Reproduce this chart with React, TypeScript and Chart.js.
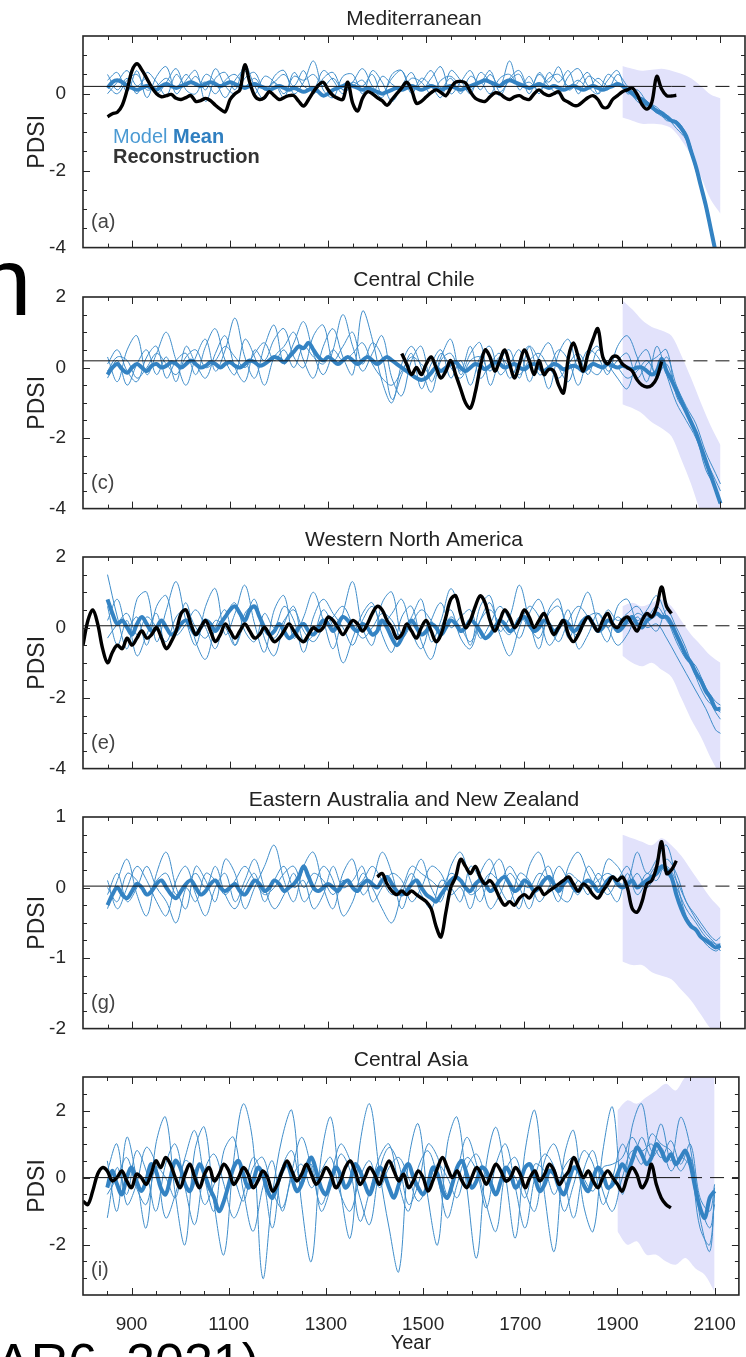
import React, { useEffect, useRef } from "react";
import { Chart, registerables } from "chart.js";

Chart.register(...registerables);

const FONT = '"Liberation Sans", Arial, Helvetica, sans-serif';

// ---------- categories ----------
const YEARS10 = [
  800, 810, 820, 830, 840, 850, 860, 870, 880, 890,
  900, 910, 920, 930, 940, 950, 960, 970, 980, 990,
  1000, 1010, 1020, 1030, 1040, 1050, 1060, 1070, 1080, 1090,
  1100, 1110, 1120, 1130, 1140, 1150, 1160, 1170, 1180, 1190,
  1200, 1210, 1220, 1230, 1240, 1250, 1260, 1270, 1280, 1290,
  1300, 1310, 1320, 1330, 1340, 1350, 1360, 1370, 1380, 1390,
  1400, 1410, 1420, 1430, 1440, 1450, 1460, 1470, 1480, 1490,
  1500, 1510, 1520, 1530, 1540, 1550, 1560, 1570, 1580, 1590,
  1600, 1610, 1620, 1630, 1640, 1650, 1660, 1670, 1680, 1690,
  1700, 1710, 1720, 1730, 1740, 1750, 1760, 1770, 1780, 1790,
  1800, 1810, 1820, 1830, 1840, 1850, 1860, 1870, 1880, 1890,
  1900, 1910, 1920, 1930, 1940, 1950, 1960, 1970, 1980, 1990,
  2000, 2010, 2020, 2030, 2040, 2050, 2060, 2070, 2080, 2090,
  2100,
];
const MODEL_START = 850;
const YEARS20 = [
  850, 870, 890, 910, 930, 950, 970, 990, 1010, 1030, 1050, 1070, 1090,
  1110, 1130, 1150, 1170, 1190, 1210, 1230, 1250, 1270, 1290, 1310, 1330,
  1350, 1370, 1390, 1410, 1430, 1450, 1470, 1490, 1510, 1530, 1550, 1570,
  1590, 1610, 1630, 1650, 1670, 1690, 1710, 1730, 1750, 1770, 1790, 1810,
  1830, 1850, 1870, 1890, 1910, 1930, 1950, 1970, 1990, 2010, 2030, 2050,
  2070, 2090, 2100,
];
const SHADE_YEARS = [1900, 1920, 1940, 1960, 1980, 2000, 2020, 2040, 2060, 2080, 2100];
const ZERO_SOLID_SPAN = [800, 2000];
const ZERO_DASH_SPAN = [2000, 2150];
const X_RANGE = [800, 2150];
const X_TICK_LABELS = [900, 1100, 1300, 1500, 1700, 1900, 2100];

// ---------- (a) Mediterranean ----------
const MED_TITLE = "Mediterranean";
const MED_Y_RANGE = [-4, 1.5];
const MED_Y_TICKS = [-4, -2, 0];
const MED_ZERO = 0.19;
const MED_MEAN = [
  0.15, 0.3, 0.35, 0.3, 0.2, 0.15, 0.1, 0.15, 0.2, 0.15,
  0.1, 0.2, 0.25, 0.2, 0.15, 0.2, 0.25, 0.3, 0.25, 0.2,
  0.25, 0.3, 0.25, 0.2, 0.25, 0.3, 0.25, 0.2, 0.15, 0.2,
  0.25, 0.2, 0.15, 0.1, 0.15, 0.2, 0.15, 0.1, 0.15, 0.1,
  0.05, 0.1, 0.15, 0.05, -0.05, 0.0, 0.1, 0.15, 0.2, 0.25,
  0.2, 0.15, 0.1, 0.15, 0.1, 0.05, 0.0, 0.05, 0.1, 0.15,
  0.1, 0.15, 0.2, 0.15, 0.1, 0.15, 0.2, 0.15, 0.1, 0.15,
  0.2, 0.15, 0.1, 0.15, 0.2, 0.25, 0.3, 0.35, 0.3, 0.25,
  0.2, 0.3, 0.35, 0.3, 0.25, 0.2, 0.15, 0.2, 0.25, 0.2,
  0.15, 0.2, 0.15, 0.1, 0.15, 0.2, 0.15, 0.1, 0.15, 0.2,
  0.15, 0.1, 0.15, 0.2, 0.25, 0.2, 0.1, 0.0, -0.1, -0.15,
  -0.25, -0.35, -0.45, -0.5, -0.6, -0.7, -0.75, -0.9, -1.1, -1.5,
  -1.9, -2.4, -2.9, -3.5, -4.1, -4.6,
];
const MED_RECON_START = 850;
const MED_RECON = [
  -0.6, -0.52, -0.48, -0.3, 0.1, 0.6, 0.78, 0.62, 0.4, 0.17,
  0.0, -0.08, -0.05, -0.02, -0.12, -0.15, -0.1, -0.05, -0.2, -0.18,
  -0.12, -0.18, -0.3, -0.4, -0.47, -0.15, 0.0, 0.1, 0.75, 0.3,
  -0.05, -0.15, -0.1, 0.05, -0.05, -0.15, -0.1, -0.05, -0.05, -0.2,
  -0.32, -0.15, 0.05, 0.22, 0.3, 0.1, -0.05, -0.12, -0.15, 0.3,
  -0.25, -0.45, -0.12, 0.05, 0.0, -0.1, -0.18, -0.3, -0.15, 0.0,
  0.15, 0.3, 0.1, -0.25, -0.2, -0.08, 0.03, 0.1, 0.03, -0.05,
  0.15, 0.3, 0.32, 0.28, 0.05, -0.12, -0.18, -0.2, -0.08, 0.02,
  0.0, -0.1, -0.15, -0.08, -0.05, -0.12, -0.15, 0.0, 0.1, 0.0,
  -0.05, 0.0, 0.05, -0.15, -0.22, -0.3, -0.3, -0.2, -0.1, -0.05,
  -0.15, -0.35, -0.35, -0.15, -0.05, 0.05, 0.1, 0.15, -0.02, -0.28,
  -0.4, -0.22, 0.45, 0.12, -0.05, -0.06, -0.04,
];
const MED_M1 = [
  0.35, 0.55, 0.05, 0.6, -0.1, 0.45, 0.7, 0.0, 0.35, 0.6, -0.2, 0.4, 0.55,
  0.1, 0.75, 0.2, -0.15, 0.45, 0.6, 0.0, 0.3, 0.85, 0.1, -0.1, 0.45, 0.5,
  0.0, 0.6, 0.3, -0.2, 0.2, 0.55, 0.1, 0.4, 0.7, 0.0, 0.3, 0.6, 0.1, 0.5,
  0.2, 0.85, 0.1, 0.45, 0.0, 0.55, 0.3, 0.6, 0.0, 0.45, 0.3, 0.1, 0.5,
  0.2, -0.05, -0.2, -0.5, -0.55, -0.8, -1.15, -1.95, -2.9, -4.1, -4.6,
];
const MED_M2 = [
  0.0, 0.3, 0.6, 0.2, 0.4, 0.0, 0.3, 0.65, 0.1, 0.0, 0.5, 0.3, -0.1,
  0.35, 0.6, 0.0, 0.45, 0.3, -0.1, 0.55, 0.2, 0.1, 0.6, 0.35, 0.0, 0.3,
  0.65, 0.2, -0.1, 0.5, 0.6, 0.0, 0.4, 0.2, -0.1, 0.6, 0.35, 0.0, 0.55,
  0.3, -0.05, 0.4, 0.6, 0.1, 0.5, 0.2, 0.0, 0.45, 0.65, 0.2, 0.0, 0.5, 0.3,
  0.1, 0.0, -0.35, -0.4, -0.7, -0.7, -1.05, -1.85, -2.85, -4.0, -4.5,
];
const MED_M3 = [
  0.5, 0.1, 0.4, 0.0, 0.55, 0.3, -0.05, 0.5, 0.2, 0.45, 0.1, 0.65, 0.2,
  0.0, 0.4, 0.55, 0.1, 0.3, 0.5, 0.2, 0.6, 0.0, 0.4, 0.55, 0.1, 0.3, 0.2,
  0.5, 0.0, 0.4, 0.6, 0.1, 0.3, 0.6, 0.15, 0.4, 0.0, 0.45, 0.3, 0.6, 0.05,
  0.35, 0.5, 0.0, 0.55, 0.3, 0.7, 0.1, 0.3, 0.55, 0.0, 0.35, 0.6,
  0.0, 0.1, -0.2, -0.35, -0.6, -0.9, -1.2, -2.0, -3.0, -4.2, -4.7,
];
const MED_M4 = [
  0.2, 0.0, 0.35, 0.5, 0.1, 0.2, 0.4, 0.15, 0.5, 0.2, 0.3, 0.0, 0.35,
  0.5, 0.2, 0.4, 0.1, 0.3, 0.0, 0.45, 0.35, 0.5, 0.2, 0.4, 0.1, 0.2, 0.35,
  0.0, 0.45, 0.25, 0.1, 0.4, 0.3, 0.0, 0.35, 0.45, 0.2, 0.1, 0.3, 0.0, 0.4,
  0.5, 0.2, 0.3, 0.1, 0.4, 0.5, 0.2, 0.35, 0.15, 0.4, 0.2, 0.25,
  0.15, -0.2, -0.3, -0.5, -0.65, -0.75, -1.05, -1.9, -2.95, -4.05, -4.6,
];
const MED_SHADE_HI = [0.72, 0.65, 0.6, 0.62, 0.65, 0.6, 0.52, 0.4, 0.2, -0.02, -0.12];
const MED_SHADE_LO = [-0.62, -0.7, -0.78, -0.78, -0.8, -0.9, -1.2, -1.6, -2.15, -2.75, -3.12];

// ---------- (c) Central Chile ----------
const CHILE_TITLE = "Central Chile";
const CHILE_Y_RANGE = [-4, 2];
const CHILE_Y_TICKS = [-4, -2, 0, 2];
const CHILE_ZERO = 0.19;
const CHILE_MEAN = [
  -0.2, 0.0, 0.1, -0.05, -0.15, 0.0, 0.1, 0.0, -0.1, 0.05,
  0.1, 0.0, 0.05, 0.15, 0.1, 0.0, 0.1, 0.2, 0.1, 0.0,
  0.05, 0.15, 0.1, 0.0, 0.1, 0.15, 0.05, 0.0, 0.1, 0.2,
  0.15, 0.05, 0.1, 0.2, 0.3, 0.25, 0.15, 0.3, 0.45, 0.6,
  0.55, 0.7, 0.5, 0.3, 0.2, 0.3, 0.2, 0.1, 0.2, 0.3,
  0.2, 0.1, 0.2, 0.3, 0.2, 0.1, 0.2, 0.3, 0.2, 0.1,
  0.0, -0.1, -0.2, -0.3, -0.35, -0.3, -0.15, 0.0, -0.1, 0.0,
  0.1, 0.15, 0.0, -0.1, 0.0, 0.1, 0.05, -0.05, 0.05, 0.15,
  0.1, 0.0, 0.05, 0.1, 0.0, -0.05, 0.05, 0.1, 0.0, -0.1,
  0.0, 0.1, 0.05, -0.05, 0.0, 0.05, 0.0, -0.1, 0.0, 0.1,
  0.05, 0.0, 0.1, 0.05, 0.0, 0.05, 0.0, -0.05, 0.0, 0.0,
  -0.1, -0.2, -0.1, 0.25, -0.1, -0.35, -0.65, -0.95, -1.25, -1.55,
  -1.85, -2.25, -2.65, -3.05, -3.45, -3.85,
];
const CHILE_RECON_START = 1450;
const CHILE_RECON = [
  0.4, 0.1, -0.2, 0.0, -0.2,
  0.1, 0.3, 0.0, -0.3, -0.1, 0.2, -0.2, -0.6, -1.0, -1.15,
  -0.7, 0.0, 0.5, 0.3, -0.1, 0.2, 0.5, 0.1, -0.3, 0.1,
  0.5, 0.2, -0.2, 0.2, -0.2, -0.05, -0.1, -0.5, -0.72, 0.3,
  0.7, 0.3, -0.1, 0.4, 0.8, 1.1, 0.3, 0.1, 0.3, 0.3,
  0.1, 0.0, -0.1, -0.35, -0.5, -0.55, -0.5, -0.3, 0.17,
];
const CHILE_M1 = [
  0.3, -0.4, 0.5, 0.9, -0.2, 0.4, 1.0, 0.2, -0.5, 0.3, 0.8, -0.1, 0.5,
  1.4, 0.3, -0.3, 0.6, 1.2, 0.1, 0.7, 1.3, 0.4, -0.2, 0.5, 1.5, 0.6, -0.1,
  0.4, 0.9, -0.3, -0.8, 0.2, 0.6, -0.4, 0.3, 0.8, -0.2, 0.4, 0.7, -0.5, 0.2,
  0.5, -0.3, 0.6, 0.2, -0.6, 0.4, 0.8, 0.0, 0.5, 0.3, -0.2, 0.6,
  0.9, 0.3, -0.4, 0.6, -0.2, -1.0, -1.5, -2.0, -2.7, -3.5, -3.9,
];
const CHILE_M2 = [
  -0.3, 0.2, -0.5, 0.1, 0.5, -0.2, 0.3, -0.4, 0.6, 0.1, -0.3, 0.4, 0.9,
  0.0, -0.4, 0.5, 0.2, 0.8, 1.1, 0.3, 0.0, 0.9, 1.2, 0.2, 0.6, 1.0, 0.1,
  0.7, 0.3, -0.9, -0.2, 0.4, -0.6, 0.1, 0.5, -0.3, 0.2, -0.5, 0.3, 0.6,
  -0.2, 0.1, 0.5, -0.4, 0.3, 0.7, 0.0, -0.4, 0.3, -0.2, 0.5, 0.1, -0.3,
  -0.6, 0.2, 0.5, -0.3, 0.3, -0.5, -1.1, -1.6, -2.4, -3.0, -3.3,
];
const CHILE_M3 = [
  0.1, 0.5, -0.1, -0.4, 0.3, 0.6, -0.3, 0.2, 0.4, -0.2, 0.6, 1.1, 0.2,
  -0.2, 0.8, 0.3, -0.5, 0.3, 0.6, 1.0, 0.2, -0.3, 0.6, 1.1, 0.3, -0.2, 1.6,
  0.8, -0.4, -1.0, 0.1, 0.6, 0.0, -0.7, 0.2, 0.4, -0.1, 0.6, -0.3, 0.1,
  0.4, -0.3, 0.2, 0.6, -0.2, 0.0, 0.5, 0.2, -0.5, 0.3, 0.6, -0.1, 0.2,
  0.4, -0.3, 0.1, 0.3, 0.5, -0.8, -1.3, -1.9, -2.9, -3.4, -3.8,
];
const CHILE_M4 = [
  -0.1, 0.3, 0.2, -0.3, 0.0, 0.4, 0.1, -0.2, 0.3, 0.5, 0.0, 0.2, 0.6,
  0.3, 0.0, 0.4, 0.7, 0.2, 0.5, 0.0, 0.6, 0.3, 0.1, 0.5, 0.2, 0.4, 0.7,
  0.1, -0.3, -0.5, -0.1, 0.3, 0.1, -0.2, 0.4, 0.0, -0.3, 0.2, 0.3, -0.1,
  0.3, 0.0, -0.2, 0.2, 0.4, 0.0, -0.3, 0.1, 0.4, 0.0, -0.2, 0.2, 0.0,
  -0.3, -0.1, 0.2, -0.2, 0.1, -0.7, -1.2, -1.8, -2.6, -3.2, -3.5,
];
const CHILE_SHADE_HI = [1.9, 1.65, 1.35, 1.15, 1.05, 0.9, 0.35, -0.3, -1.0, -1.65, -2.2];
const CHILE_SHADE_LO = [-1.04, -1.15, -1.3, -1.55, -1.72, -1.95, -2.6, -3.3, -4.1, -4.6, -5.0];

// ---------- (e) Western North America ----------
const WNA_TITLE = "Western North America";
const WNA_Y_RANGE = [-4, 2];
const WNA_Y_TICKS = [-4, -2, 0, 2];
const WNA_ZERO = 0.05;
const WNA_MEAN = [
  0.8, 0.4, 0.1, 0.2, 0.0, -0.2, 0.1, 0.3, 0.1, -0.1,
  0.0, 0.2, 0.0, -0.2, -0.1, 0.1, 0.2, 0.0, -0.2, 0.0,
  0.2, 0.1, -0.1, 0.1, 0.3, 0.5, 0.6, 0.4, 0.2, 0.5,
  0.6, 0.3, 0.0, -0.2, -0.1, 0.1, -0.1, -0.3, -0.2, 0.0,
  0.1, -0.1, -0.2, 0.0, 0.2, 0.1, -0.1, 0.1, 0.3, 0.2,
  0.0, -0.1, 0.1, 0.0, -0.2, -0.1, 0.2, 0.0, -0.3, -0.5,
  -0.3, 0.0, 0.2, 0.0, -0.2, -0.1, 0.1, 0.0, -0.2, 0.0,
  0.2, 0.1, -0.1, 0.0, 0.2, 0.1, -0.1, -0.3, -0.2, 0.0,
  0.2, 0.1, -0.1, 0.0, 0.2, 0.3, 0.1, -0.1, 0.0, 0.2,
  0.1, -0.1, 0.0, 0.2, 0.1, -0.1, 0.0, 0.2, 0.3, 0.1,
  -0.1, 0.0, 0.2, 0.1, -0.1, 0.0, 0.2, 0.3, 0.1, 0.0,
  0.2, 0.3, 0.4, 0.3, 0.3, 0.1, -0.2, -0.5, -0.8, -1.0,
  -1.3, -1.5, -1.8, -2.0, -2.3, -2.3,
];
const WNA_RECON_START = 800;
const WNA_RECON = [
  -0.5, 0.2, 0.5, 0.1, -0.6, -1.0, -0.7, -0.5, -0.6, -0.3,
  -0.5, -0.3, -0.1, -0.3, -0.2, 0.0, -0.3, -0.6, -0.4, -0.1,
  0.4, 0.5, 0.1, -0.2, 0.0, 0.2, -0.1, -0.4, -0.2, 0.1,
  -0.1, -0.3, -0.1, 0.1, -0.1, -0.3, -0.2, 0.0, -0.2, -0.4,
  -0.3, -0.1, 0.1, -0.1, -0.3, -0.4, -0.2, 0.0, -0.1, 0.0,
  0.3, 0.2, 0.0, -0.2, 0.0, 0.2, 0.1, -0.1, 0.1, 0.4,
  0.6, 0.5, 0.2, 0.0, -0.3, -0.2, 0.1, -0.1, -0.3, 0.0,
  0.2, -0.1, -0.4, -0.2, 0.3, 0.8, 0.9, 0.4, 0.0, 0.2,
  0.6, 0.9, 0.7, 0.2, -0.1, 0.2, 0.5, 0.3, 0.0, 0.2,
  0.5, 0.3, 0.0, 0.2, 0.4, 0.1, -0.2, 0.0, 0.2, -0.2,
  -0.4, -0.2, 0.1, 0.3, 0.1, -0.1, 0.2, 0.4, 0.1, 0.0,
  0.2, 0.3, 0.1, -0.1, 0.2, 0.4, 0.3, 0.6, 1.15, 0.6,
  0.4,
];
const WNA_M1 = [
  1.5, 0.3, -0.6, 0.8, 1.0, -0.4, 0.5, 1.3, 0.2, -0.5, 0.6, 1.1, -0.2,
  0.4, 1.2, 0.1, -0.7, 0.5, 0.9, -0.3, 0.3, 1.0, 0.2, -0.6, 0.4, 1.3, 0.0,
  -0.5, 0.7, 1.0, -0.2, 0.3, 0.8, -0.4, 0.2, 1.1, 0.4, -0.5, 0.6, 0.9,
  -0.1, 0.3, 1.2, 0.2, -0.6, 0.5, 0.8, -0.3, 0.4, 1.0, 0.1, -0.4, 0.6,
  0.8, 0.2, 0.5, 0.9, 0.3, -0.4, -0.9, -1.2, -1.8, -2.4, -2.6,
];
const WNA_M2 = [
  0.6, -0.5, 0.2, -0.8, -0.2, 0.4, -0.6, -0.1, 0.7, -0.4, -0.9, 0.0, 0.5,
  -0.5, 0.2, 0.8, -0.3, -0.8, 0.1, 0.6, -0.4, -0.2, 0.5, 0.0, -1.0, -0.3,
  0.4, 0.7, -0.2, -0.7, 0.3, 0.6, -0.4, -0.9, 0.0, 0.5, -0.3, -0.6, 0.2,
  0.7, -0.2, -0.8, 0.0, 0.6, 0.3, -0.5, -0.1, 0.5, -0.6, -0.2, 0.4, 0.0, -0.5,
  -0.2, 0.3, 0.0, 0.1, -0.3, -0.8, -1.3, -1.8, -2.3, -2.9, -3.0,
];
const WNA_M3 = [
  0.2, 0.8, 0.0, 0.3, -0.5, 0.6, 0.9, -0.2, 0.1, 0.5, 0.0, -0.6, 0.3,
  0.7, -0.1, -0.4, 0.4, 0.0, 0.6, 0.2, -0.7, 0.3, 0.8, 0.4, 0.0, -0.5, 0.2,
  0.6, 0.1, 0.4, 0.8, -0.1, -0.6, 0.2, 0.7, 0.0, 0.3, 0.5, -0.3, 0.1, 0.6,
  0.2, -0.3, 0.4, 0.8, 0.1, -0.4, 0.2, 0.6, 0.3, -0.1, 0.5, 0.2,
  0.4, 0.6, 0.2, -0.1, 0.5, 0.0, -0.6, -1.4, -2.0, -2.3, -2.4,
];
const WNA_M4 = [
  -0.3, 0.1, 0.4, -0.2, 0.3, 0.0, -0.4, 0.3, 0.5, 0.0, -0.3, 0.2, 0.0,
  -0.5, 0.4, 0.6, 0.0, -0.3, 0.2, 0.5, -0.1, -0.4, 0.0, 0.3, 0.6, 0.1,
  -0.3, 0.0, 0.4, 0.2, -0.3, 0.1, 0.5, 0.2, -0.2, 0.3, 0.0, -0.4, 0.2, 0.5,
  0.1, -0.2, 0.3, 0.0, -0.3, 0.4, 0.6, 0.0, -0.2, 0.3, 0.4, 0.0, 0.3,
  0.1, 0.4, 0.3, 0.6, 0.2, -0.2, -0.8, -1.1, -1.7, -2.1, -2.2,
];
const WNA_SHADE_HI = [0.6, 0.7, 0.6, 0.7, 0.8, 0.6, 0.2, -0.2, -0.5, -0.8, -1.0];
const WNA_SHADE_LO = [-0.8, -1.0, -1.1, -1.0, -1.2, -1.4, -2.0, -2.6, -3.1, -3.7, -4.2];

// ---------- (g) Eastern Australia and New Zealand ----------
const EANZ_TITLE = "Eastern Australia and New Zealand";
const EANZ_Y_RANGE = [-2, 1];
const EANZ_Y_TICKS = [-2, -1, 0, 1];
const EANZ_ZERO = 0.02;
const EANZ_MEAN = [
  -0.25, -0.1, 0.0, -0.1, -0.15, -0.05, 0.05, 0.0, -0.1, -0.05,
  0.05, 0.1, 0.0, -0.1, -0.15, -0.05, 0.05, 0.1, 0.0, -0.1,
  -0.05, 0.05, 0.1, 0.0, -0.05, 0.0, 0.05, -0.05, -0.1, 0.0,
  0.1, 0.05, -0.05, 0.0, 0.1, 0.05, -0.05, 0.0, 0.05, 0.15,
  0.3, 0.15, 0.0, -0.05, 0.0, 0.05, 0.0, -0.05, 0.05, 0.1,
  0.0, -0.05, 0.05, 0.1, 0.05, 0.0, 0.1, 0.15, 0.05, -0.05,
  -0.1, -0.05, 0.05, 0.1, 0.0, -0.1, -0.15, -0.2, -0.1, 0.0,
  0.1, 0.15, 0.1, 0.0, -0.05, 0.05, 0.1, 0.05, -0.05, 0.0,
  0.1, 0.15, 0.05, -0.05, 0.0, 0.1, 0.05, -0.05, 0.0, 0.1,
  0.15, 0.05, -0.05, 0.05, 0.1, 0.0, -0.05, 0.05, 0.1, 0.05,
  -0.05, 0.0, 0.1, 0.15, 0.05, 0.0, 0.05, 0.1, 0.0, 0.05,
  0.1, 0.15, 0.2, 0.3, 0.25, 0.15, -0.1, -0.3, -0.45, -0.55,
  -0.6, -0.7, -0.75, -0.8, -0.85, -0.82,
];
const EANZ_RECON_START = 1400;
const EANZ_RECON = [
  0.15, 0.2, 0.05, -0.05, -0.1, -0.05, -0.1, -0.05, -0.1, -0.15,
  -0.2, -0.3, -0.55, -0.7, -0.35, 0.0, 0.15, 0.4, 0.3, 0.2,
  0.3, 0.15, 0.05, 0.1, 0.0, -0.15, -0.25, -0.2, -0.25, -0.15,
  -0.1, -0.15, -0.05, 0.0, -0.1, -0.05, 0.0, 0.05, 0.1, 0.15,
  0.05, -0.05, 0.05, 0.0, -0.1, -0.15, -0.05, 0.05, 0.15, 0.1,
  0.15, 0.0, -0.3, -0.35, -0.2, 0.05, 0.1, 0.3, 0.65, 0.2,
  0.25, 0.38,
];
const EANZ_M1 = [
  -0.3, 0.1, 0.4, -0.1, -0.4, 0.2, 0.5, 0.0, -0.3, 0.3, 0.1, -0.2, 0.4,
  0.2, -0.3, 0.0, 0.3, 0.6, 0.1, -0.2, 0.3, 0.5, 0.0, -0.3, 0.2, 0.4, -0.1,
  0.1, 0.5, 0.2, -0.3, 0.1, 0.4, 0.0, -0.2, 0.3, 0.5, 0.1, -0.2, 0.2, 0.4,
  0.0, -0.3, 0.3, 0.5, 0.1, -0.2, 0.3, 0.5, 0.2, 0.0, 0.4, 0.3,
  0.1, 0.5, 0.2, 0.4, 0.6, 0.1, -0.4, -0.6, -0.8, -0.9, -0.85,
];
const EANZ_M2 = [
  0.1, -0.3, 0.0, 0.3, 0.1, -0.2, -0.4, 0.1, 0.3, -0.1, -0.4, 0.0, 0.2,
  -0.2, 0.1, 0.4, 0.0, -0.3, -0.1, 0.2, -0.2, 0.0, 0.3, 0.1, -0.4, -0.2,
  0.2, 0.0, -0.3, -0.5, -0.1, 0.2, -0.1, -0.3, 0.1, 0.0, -0.2, 0.3, 0.1,
  -0.3, -0.1, 0.2, 0.0, -0.3, 0.1, 0.3, -0.1, -0.2, 0.1, -0.1, 0.2, 0.0, -0.2,
  0.2, -0.1, 0.1, 0.3, 0.2, 0.0, -0.3, -0.5, -0.7, -0.8, -0.8,
];
const EANZ_M3 = [
  -0.1, 0.2, -0.2, 0.0, 0.3, 0.0, -0.2, -0.5, 0.0, 0.2, 0.0, 0.3, -0.1,
  -0.3, 0.0, 0.2, -0.2, 0.1, 0.3, 0.0, 0.1, -0.3, -0.1, 0.3, 0.0, 0.1, 0.3,
  -0.2, 0.0, 0.2, 0.1, -0.2, 0.0, 0.3, 0.2, -0.1, 0.0, -0.3, 0.2, 0.4, 0.0,
  -0.2, 0.2, 0.1, -0.2, 0.0, 0.3, 0.1, -0.1, 0.3, 0.1, -0.1, 0.1,
  0.3, 0.0, 0.2, 0.1, 0.4, 0.2, -0.2, -0.4, -0.6, -0.75, -0.7,
];
const EANZ_M4 = [
  0.0, -0.2, 0.2, 0.1, -0.1, 0.1, 0.2, -0.1, 0.0, -0.2, 0.2, 0.1, -0.1,
  0.1, 0.3, 0.1, -0.1, 0.0, 0.2, 0.3, 0.0, 0.2, 0.1, -0.1, 0.1, 0.0, 0.1,
  0.3, 0.1, -0.1, 0.0, 0.3, 0.2, 0.1, 0.0, 0.2, 0.1, -0.1, 0.0, 0.2, 0.1,
  0.3, 0.1, 0.0, 0.2, 0.1, 0.0, 0.2, 0.1, 0.0, 0.1, 0.2, 0.1,
  0.0, 0.2, 0.0, 0.2, 0.3, 0.1, -0.2, -0.45, -0.65, -0.8, -0.9,
];
const EANZ_SHADE_HI = [0.75, 0.7, 0.65, 0.6, 0.7, 0.6, 0.45, 0.25, 0.05, -0.15, -0.3];
const EANZ_SHADE_LO = [-1.05, -1.1, -1.1, -1.2, -1.25, -1.3, -1.45, -1.6, -1.8, -2.0, -2.1];

// ---------- (i) Central Asia ----------
const CA_TITLE = "Central Asia";
const CA_Y_RANGE = [-3.5, 3];
const CA_Y_TICKS = [-2, 0, 2];
const CA_ZERO = 0.0;
const CA_MEAN = [
  -0.3, 0.2, -0.2, -0.5, 0.0, 0.3, -0.1, -0.4, -0.1, 0.4,
  0.2, -0.3, -0.5, 0.0, 0.5, 0.3, -0.2, -0.4, 0.0, 0.4,
  0.1, -0.3, -0.6, -1.0, -0.7, -0.2, 0.3, 0.5, 0.1, -0.3,
  -0.1, 0.3, 0.1, -0.4, -0.6, -0.2, 0.2, 0.4, 0.0, -0.4,
  -0.2, 0.3, 0.6, 0.2, -0.3, -0.5, -0.1, 0.3, 0.1, -0.3,
  -0.1, 0.4, 0.2, -0.2, -0.5, -0.1, 0.3, 0.1, -0.3, -0.6,
  -0.2, 0.2, 0.4, 0.0, -0.3, -0.5, -0.2, 0.3, 0.1, -0.4,
  -0.6, -0.2, 0.3, 0.5, 0.1, -0.3, -0.1, 0.3, 0.2, -0.2,
  -0.5, -0.1, 0.3, 0.1, -0.3, -0.1, 0.3, 0.4, 0.0, -0.4,
  -0.2, 0.2, 0.1, -0.3, -0.5, -0.1, 0.3, 0.2, -0.2, -0.4,
  0.0, 0.3, 0.1, -0.3, -0.2, 0.1, 0.4, 0.2, 0.5, 0.9,
  0.7, 0.4, 0.6, 1.0, 0.8, 0.5, 0.7, 0.4, 0.6, 0.8,
  0.4, -0.3, -0.9, -1.2, -0.6, -0.4,
];
const CA_RECON_START = 800;
const CA_RECON = [
  -0.7, -0.8, -0.4, 0.1, 0.3, 0.2, -0.1, 0.0, 0.2, -0.1,
  -0.3, 0.1, 0.0, -0.2, 0.1, 0.5, 0.3, 0.6, 0.4, 0.0,
  -0.3, 0.1, 0.4, 0.0, -0.3, 0.1, 0.3, -0.1, 0.1, 0.4,
  0.2, -0.2, 0.0, 0.3, 0.1, -0.3, -0.1, 0.2, 0.0, -0.4,
  -0.2, 0.2, 0.5, 0.2, -0.1, 0.1, 0.4, 0.1, -0.2, 0.0,
  0.3, 0.1, -0.3, -0.1, 0.3, 0.5, 0.2, -0.2, 0.0, 0.3,
  0.1, -0.2, 0.2, 0.5, 0.2, -0.1, 0.1, -0.3, -0.1, 0.2,
  0.0, -0.4, -0.1, 0.3, 0.6, 0.3, 0.0, 0.2, -0.1, -0.3,
  0.0, 0.3, 0.1, -0.2, 0.1, 0.4, 0.2, -0.1, 0.0, 0.3,
  0.1, -0.3, 0.0, 0.2, -0.1, 0.1, 0.4, 0.2, -0.2, 0.0,
  0.2, 0.6, 0.3, 0.0, 0.2, -0.1, -0.3, 0.0, 0.2, 0.0,
  -0.2, -0.4, 0.0, 0.3, 0.1, -0.3, -0.1, 0.4, -0.2, -0.6,
  -0.8, -0.9,
];
const CA_M1 = [
  0.5, -1.0, 1.2, 0.0, -1.5, 1.0, 1.8, -0.5, -2.0, 0.8, 1.5, -0.8, -2.3,
  0.5, 2.2, 1.0, -3.0, -0.5, 1.2, 2.0, -0.8, -2.5, 0.6, 1.8, -0.4, -1.8,
  1.0, 2.2, 0.2, -1.5, -2.8, 0.5, 1.6, -0.6, -2.0, 1.0, 1.8, -0.3, -2.4,
  0.4, 1.5, 0.0, -1.8, 0.8, 2.0, -0.5, -2.2, 0.6, 1.4, -0.8, -1.6, 0.8, 2.1,
  -0.5, 1.5, 2.2, 0.8, 1.6, 0.5, 1.8, 0.9, -1.2, -2.2, -0.5,
];
const CA_M2 = [
  -1.2, 0.3, -0.5, 0.8, 0.2, -1.0, 0.4, 1.0, -0.3, -1.4, 0.2, 0.7, -0.2,
  -1.2, -0.5, 0.6, 0.0, -1.5, 0.3, 0.8, -0.2, 0.4, -1.0, -0.3, 0.7, 0.2,
  -1.3, -0.4, 0.6, 1.0, -0.2, -1.0, 0.3, 0.8, 0.0, -1.2, -0.2, 0.6, 0.2,
  -0.9, 0.4, 1.0, -0.3, -1.5, 0.0, 0.7, 0.3, -1.0, -0.2, 0.8, 0.4, -0.8, 0.0,
  1.0, 0.5, 1.2, 0.6, 0.9, 0.2, 0.6, 0.3, -1.5, -2.0, -0.3,
];
const CA_M3 = [
  0.2, 1.0, -0.8, -0.2, 0.9, 0.4, -1.2, -0.5, 0.6, 1.4, 0.0, -1.0, 0.8,
  1.2, -0.4, -1.6, -0.3, 0.5, -1.0, 0.2, 1.2, 0.3, -0.8, 0.0, 1.0, 0.5,
  -0.6, -1.4, 0.2, 0.9, 0.4, -0.8, -0.2, 1.0, 0.6, -0.5, 0.2, 1.2, 0.4,
  -0.8, -1.6, 0.2, 0.6, -0.4, -1.0, 0.5, 1.0, 0.0, -1.2, 0.2, 0.8, -0.4, -1.0,
  0.0, 0.8, 0.4, 1.3, 1.0, 0.8, 0.2, 0.6, -0.8, -1.5, -0.8,
];
const CA_M4 = [
  -0.5, 0.0, 0.6, -0.3, -0.8, 0.3, 0.0, -0.6, 0.5, 0.2, -0.8, -0.2, 0.4,
  0.0, -0.7, 0.3, 0.6, -0.4, -0.9, 0.0, 0.4, -0.3, 0.2, 0.6, -0.5, -1.0,
  0.0, 0.5, -0.3, 0.3, 0.6, 0.0, -0.7, -0.2, 0.4, 0.0, -0.6, 0.3, 0.7, 0.0,
  -0.5, 0.3, 0.0, -0.6, 0.4, 0.2, -0.5, 0.3, 0.6, 0.0, -0.4, 0.3, 0.4,
  0.6, 1.2, 0.8, 1.0, 0.6, 1.1, 0.4, 1.0, -0.6, -1.0, -0.2,
];
const CA_SHADE_HI = [2.0, 2.3, 2.2, 2.4, 2.6, 2.8, 2.6, 3.0, 3.1, 3.0, 3.1];
const CA_SHADE_LO = [-1.6, -2.0, -1.9, -2.3, -2.3, -2.5, -2.6, -2.4, -2.7, -2.9, -3.4];

// ---------- panel table (built from the arrays above) ----------
type Panel = {
  title: string; letter: string; yRange: number[]; yTicks: number[]; minor: number;
  zero: number; mean: number[]; reconStart: number; recon: number[];
  thin: number[][]; hi: number[]; lo: number[]; legend: boolean; xLabels: boolean;
};

const PANELS: Panel[] = [
  { title: MED_TITLE, letter: "(a)", yRange: MED_Y_RANGE, yTicks: MED_Y_TICKS, minor: 0.5, zero: MED_ZERO,
    mean: MED_MEAN, reconStart: MED_RECON_START, recon: MED_RECON, thin: [MED_M1, MED_M2, MED_M3, MED_M4],
    hi: MED_SHADE_HI, lo: MED_SHADE_LO, legend: true, xLabels: false },
  { title: CHILE_TITLE, letter: "(c)", yRange: CHILE_Y_RANGE, yTicks: CHILE_Y_TICKS, minor: 0.5, zero: CHILE_ZERO,
    mean: CHILE_MEAN, reconStart: CHILE_RECON_START, recon: CHILE_RECON, thin: [CHILE_M1, CHILE_M2, CHILE_M3, CHILE_M4],
    hi: CHILE_SHADE_HI, lo: CHILE_SHADE_LO, legend: false, xLabels: false },
  { title: WNA_TITLE, letter: "(e)", yRange: WNA_Y_RANGE, yTicks: WNA_Y_TICKS, minor: 0.5, zero: WNA_ZERO,
    mean: WNA_MEAN, reconStart: WNA_RECON_START, recon: WNA_RECON, thin: [WNA_M1, WNA_M2, WNA_M3, WNA_M4],
    hi: WNA_SHADE_HI, lo: WNA_SHADE_LO, legend: false, xLabels: false },
  { title: EANZ_TITLE, letter: "(g)", yRange: EANZ_Y_RANGE, yTicks: EANZ_Y_TICKS, minor: 0.25, zero: EANZ_ZERO,
    mean: EANZ_MEAN, reconStart: EANZ_RECON_START, recon: EANZ_RECON, thin: [EANZ_M1, EANZ_M2, EANZ_M3, EANZ_M4],
    hi: EANZ_SHADE_HI, lo: EANZ_SHADE_LO, legend: false, xLabels: false },
  { title: CA_TITLE, letter: "(i)", yRange: CA_Y_RANGE, yTicks: CA_Y_TICKS, minor: 0.5, zero: CA_ZERO,
    mean: CA_MEAN, reconStart: CA_RECON_START, recon: CA_RECON, thin: [CA_M1, CA_M2, CA_M3, CA_M4],
    hi: CA_SHADE_HI, lo: CA_SHADE_LO, legend: false, xLabels: true },
];

// ---------- layout / style ----------
const BOX_TOPS = [36, 297, 557, 817, 1077];
const BOX_H = 218;
const TITLE_SPACE = 30;
const AXIS_W = 83;
const BELOW = 14;
const BELOW_LAST = 62;
const BLUE = "#3483c3";
const BLUE_THIN = "#3f8dca";
const SHADE = "rgb(226,226,251)";
const INK = "#262626";

const pts = (xs: number[], ys: number[]) =>
  ys.map((y, i) => ({ x: xs[i], y })).filter((p) => p.x !== undefined);

const yearsFrom = (start: number) => YEARS10.slice(YEARS10.indexOf(start));

const boxPlugin = {
  id: "panelBox",
  afterDraw(chart: any, _args: any, opts: any) {
    const { ctx, chartArea: a } = chart;
    const xs = chart.scales.x;
    const ys = chart.scales.y;
    ctx.save();
    ctx.strokeStyle = INK;
    ctx.lineWidth = 1;
    ctx.beginPath();
    for (let i = 1; ; i++) {
      const v = X_RANGE[0] + i * 50;
      if (v >= X_RANGE[1]) break;
      const px = Math.round(xs.getPixelForValue(v)) + 0.5;
      const len = X_TICK_LABELS.includes(v) ? 7 : 4;
      ctx.moveTo(px, a.bottom); ctx.lineTo(px, a.bottom - len);
      ctx.moveTo(px, a.top); ctx.lineTo(px, a.top + len);
    }
    const n = Math.round((ys.max - ys.min) / opts.minor);
    for (let i = 1; i < n; i++) {
      const v = ys.min + i * opts.minor;
      const py = Math.round(ys.getPixelForValue(v)) + 0.5;
      const major = opts.majors.some((m: number) => Math.abs(m - v) < 1e-6);
      const len = major ? 7 : 4;
      ctx.moveTo(a.left, py); ctx.lineTo(a.left + len, py);
      ctx.moveTo(a.right, py); ctx.lineTo(a.right - len, py);
    }
    ctx.stroke();
    ctx.lineWidth = 1.6;
    ctx.strokeRect(a.left, a.top, a.right - a.left, a.bottom - a.top);

    ctx.fillStyle = "#444";
    ctx.font = `20px ${FONT}`;
    ctx.textAlign = "left";
    ctx.textBaseline = "middle";
    ctx.fillText(opts.letter, a.left + 8, a.bottom - 25);

    if (opts.legend) {
      ctx.textBaseline = "alphabetic";
      const lx = a.left + 30;
      ctx.font = `20px ${FONT}`;
      ctx.fillStyle = "#4b9ad3";
      ctx.fillText("Model", lx, a.top + 107);
      const w = ctx.measureText("Model ").width;
      ctx.font = `bold 20px ${FONT}`;
      ctx.fillStyle = "#2f7fc0";
      ctx.fillText("Mean", lx + w, a.top + 107);
      ctx.fillStyle = "#333";
      ctx.fillText("Reconstruction", lx, a.top + 127);
    }
    ctx.restore();
  },
};

function PanelChart({ panel, index }: { panel: Panel; index: number }) {
  const ref = useRef<HTMLCanvasElement>(null);
  const last = panel.xLabels;
  const below = last ? BELOW_LAST : BELOW;
  const height = TITLE_SPACE + BOX_H + below;
  const top = BOX_TOPS[index] - TITLE_SPACE;

  useEffect(() => {
    const meanYears = yearsFrom(MODEL_START);
    const datasets: any[] = [
      { data: pts(ZERO_SOLID_SPAN, [panel.zero, panel.zero]), borderColor: "#111", borderWidth: 1, tension: 0 },
      { data: pts(ZERO_DASH_SPAN, [panel.zero, panel.zero]), borderColor: "#111", borderWidth: 1, borderDash: [14, 8], tension: 0 },
      { data: pts(yearsFrom(panel.reconStart), panel.recon), borderColor: "#000", borderWidth: 3.4 },
      { data: pts(meanYears, panel.mean), borderColor: BLUE, borderWidth: 4 },
      ...panel.thin.map((m) => ({ data: pts(YEARS20, m), borderColor: BLUE_THIN, borderWidth: 1 })),
      { data: pts(SHADE_YEARS, panel.hi), borderWidth: 0, borderColor: "rgba(0,0,0,0)", backgroundColor: SHADE, fill: "+1", tension: 0.3 },
      { data: pts(SHADE_YEARS, panel.lo), borderWidth: 0, borderColor: "rgba(0,0,0,0)", tension: 0.3 },
    ];
    datasets.forEach((d) => {
      d.pointRadius = 0;
      d.clip = 0;
      if (d.tension === undefined) d.tension = 0.35;
      if (d.fill === undefined) d.fill = false;
    });

    const chart = new Chart(ref.current as HTMLCanvasElement, {
      type: "line",
      data: { datasets },
      plugins: [boxPlugin],
      options: {
        animation: false,
        responsive: false,
        devicePixelRatio: 1,
        parsing: false,
        normalized: true,
        layout: { padding: { left: 0, right: 1, top: 0, bottom: 0 } },
        plugins: {
          legend: { display: false },
          tooltip: { enabled: false },
          title: {
            display: true,
            fullSize: false,
            text: panel.title,
            color: "#222",
            font: { family: FONT, size: 21, weight: "normal" },
            padding: { top: 0.4, bottom: 4.4 },
          },
          panelBox: { letter: panel.letter, legend: panel.legend, minor: panel.minor, majors: panel.yTicks },
        } as any,
        scales: {
          x: {
            type: "linear",
            min: X_RANGE[0],
            max: X_RANGE[1],
            grid: { display: false },
            border: { display: false },
            ticks: {
              display: last,
              color: INK,
              padding: 10,
              font: { family: FONT, size: 19 },
              callback: (v: any) => String(v),
            },
            afterBuildTicks: (s: any) => { s.ticks = X_TICK_LABELS.map((v) => ({ value: v })); },
            afterFit: (s: any) => { s.height = below; },
            title: {
              display: last,
              text: "Year",
              color: "#222",
              font: { family: FONT, size: 20 },
              padding: { top: 0, bottom: 2 },
            },
          },
          y: {
            type: "linear",
            min: panel.yRange[0],
            max: panel.yRange[1],
            grid: { display: false },
            border: { display: false },
            ticks: {
              color: INK,
              padding: 9,
              font: { family: FONT, size: 19 },
              callback: (v: any) => String(v),
            },
            afterBuildTicks: (s: any) => { s.ticks = panel.yTicks.map((v) => ({ value: v })); },
            afterFit: (s: any) => { s.width = AXIS_W; },
            title: {
              display: true,
              text: "PDSI",
              color: "#222",
              font: { family: FONT, size: 23 },
              padding: { top: 24, bottom: 0 },
            },
          },
        },
      } as any,
    });
    return () => chart.destroy();
  }, []);

  return (
    <canvas
      ref={ref}
      width={746}
      height={height}
      style={{ position: "absolute", left: 0, top, width: 746, height }}
    />
  );
}

export default function App() {
  return (
    <div
      style={{
        position: "absolute",
        left: 0,
        top: 0,
        width: 746,
        height: 1357,
        overflow: "hidden",
        background: "#fff",
      }}
    >
      <div
        style={{
          position: "absolute",
          left: -22,
          top: 234,
          fontFamily: FONT,
          fontSize: 96,
          lineHeight: 1,
          color: "#000",
        }}
      >
        n
      </div>
      <div
        style={{
          position: "absolute",
          left: -4,
          top: 1336,
          fontFamily: FONT,
          fontSize: 52,
          lineHeight: 1,
          color: "#000",
          whiteSpace: "nowrap",
        }}
      >
        AR6, 2021)
      </div>
      {PANELS.map((p, i) => (
        <PanelChart key={p.title} panel={p} index={i} />
      ))}
    </div>
  );
}
